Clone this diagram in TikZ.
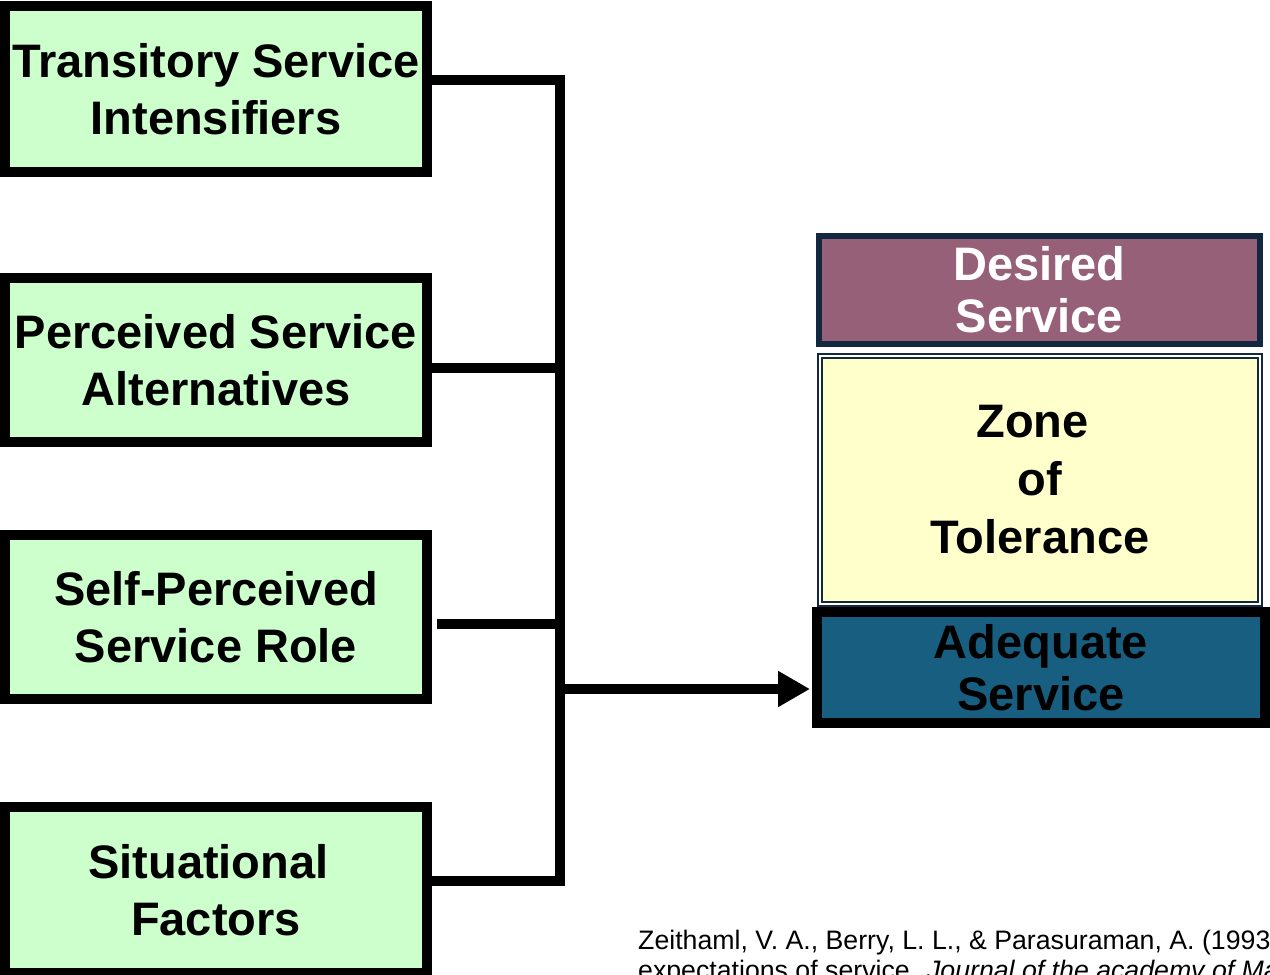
\documentclass[tikz,border=0pt]{standalone}
\usepackage{fontspec}
\setmainfont{Liberation Sans}
\usetikzlibrary{arrows.meta}
\definecolor{factorgreen}{HTML}{CCFFCC}
\definecolor{desiredfill}{HTML}{976079}
\definecolor{zonefill}{HTML}{FFFFCC}
\definecolor{adequatefill}{HTML}{175E80}
\definecolor{navyline}{HTML}{122840}
\newcommand{\trail}{\hspace*{0.32em}}
\tikzset{
  bigtext/.style={font=\fontsize{47}{57.5}\selectfont\bfseries, align=center},
  factorbox/.style={bigtext, draw=black, line width=10pt, fill=factorgreen,
    minimum width=422pt, inner sep=0pt},
  desiredbox/.style={bigtext, draw=navyline, line width=6pt, fill=desiredfill,
    text=white, minimum width=441pt, minimum height=108pt, inner sep=0pt,
    font=\fontsize{47}{52}\selectfont\bfseries},
  zonebox/.style={bigtext, draw=navyline, double=white, double distance=2pt,
    line width=2pt, fill=zonefill, minimum width=440pt, minimum height=248pt,
    inner sep=0pt, font=\fontsize{47}{58}\selectfont\bfseries},
  adequatebox/.style={bigtext, draw=black, line width=10pt, fill=adequatefill,
    minimum width=448pt, minimum height=111pt, inner sep=0pt,
    font=\fontsize{47}{52}\selectfont\bfseries},
  bus/.style={line width=10pt, line join=miter},
  citetext/.style={font=\fontsize{26.7}{30}\selectfont, inner sep=0pt, anchor=base west},
}
\begin{document}
\begin{tikzpicture}[x=1pt, y=-1pt]
\useasboundingbox (0,0) rectangle (1270,975);
\clip (0,0) rectangle (1270,975);

% antecedent factors on the left
\node[factorbox, minimum height=166pt] (b1) at (216,89) {Transitory Service\\Intensifiers};
\node[factorbox, minimum height=164pt] (b2) at (216,360) {Perceived Service\\Alternatives};
\node[factorbox, minimum height=164pt] (b3) at (216,617) {Self-Perceived\\Service Role};
\node[factorbox, minimum height=166pt] (b4) at (216,890) {Situational\trail\\Factors};

% expectation levels on the right
\node[desiredbox] (des) at (1039.5,290) {Desired\\Service};
\node[zonebox] (zone) at (1040,480) {Zone\trail\\of\trail\\Tolerance};
\node[adequatebox] (ade) at (1041,667.5) {Adequate\\Service};

% collecting bus
\coordinate (j1) at (560,80);
\coordinate (j2) at (560,368);
\coordinate (j3) at (560,624);
\coordinate (j4) at (560,881);
\coordinate (s3) at (437,624);
\coordinate (out) at (565,689);

\draw[bus] (b1.east |- j1) -- (j1) -- (j4) -- (b4.east |- j4);
\draw[bus] (b2.east |- j2) -- (j2);
\draw[bus] (s3) -- (j3);
\draw[line width=10pt, -{Triangle[length=32pt, width=34pt]}, shorten >=2pt]
  (out) -- (ade.west |- out);

% reference
\node[citetext] (cite1) at (638,949) {Zeithaml, V. A., Berry, L. L., \& Parasuraman, A. (1993). The nature and determinants of customer};
\node[citetext] (cite2) at (638,979) {expectations of service. \textit{Journal of the academy of Marketing Science}, 21(1), 1--12.};
\end{tikzpicture}
\end{document}
